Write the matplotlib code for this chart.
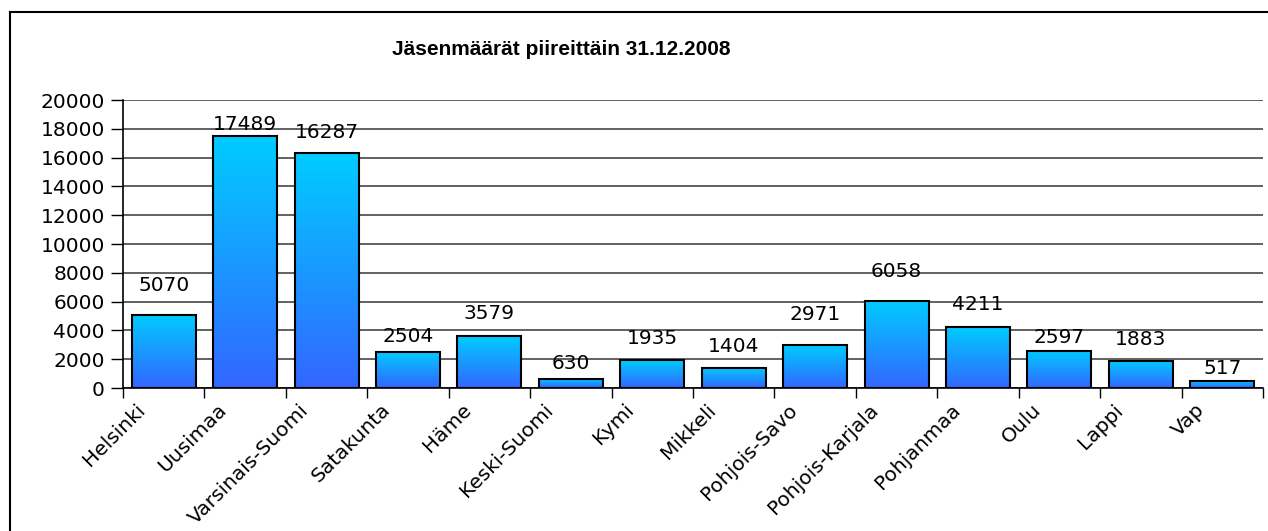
import matplotlib
matplotlib.use("Agg")
import matplotlib.pyplot as plt
import matplotlib.transforms as mtransforms
from matplotlib.lines import Line2D
from matplotlib.colors import LinearSegmentedColormap
import numpy as np

categories = ["Helsinki", "Uusimaa", "Varsinais-Suomi", "Satakunta", "Häme",
              "Keski-Suomi", "Kymi", "Mikkeli", "Pohjois-Savo", "Pohjois-Karjala",
              "Pohjanmaa", "Oulu", "Lappi", "Vap"]
values = [5070, 17489, 16287, 2504, 3579, 630, 1935, 1404, 2971, 6058,
          4211, 2597, 1883, 517]
yticks = [0, 2000, 4000, 6000, 8000, 10000, 12000, 14000, 16000, 18000, 20000]
title = "Jäsenmäärät piireittäin 31.12.2008"

# style: gap (pixels) between bar top and value label, as placed in the original
label_gap_px = [20, 2, 11, 6, 13, 6, 12, 12, 21, 20, 13, 4, 12, 3]

W, H, DPI = 1268, 531, 100
fig = plt.figure(figsize=(W / DPI, H / DPI), dpi=DPI)
ax = fig.add_axes([123 / W, 1 - 388 / H, (1263 - 123) / W, (388 - 100) / H])

num_font = "DejaVu Sans"
fs = 14.5

cmap = LinearSegmentedColormap.from_list("grad", ["#3366FF", "#00CCFF"])
grad = np.linspace(0, 1, 256).reshape(-1, 1)

x = np.arange(len(categories))
bw = 0.786
bars = ax.bar(x, values, width=bw, color="none", edgecolor="black",
              linewidth=1.5, zorder=3)
for b in bars:
    x0, y0 = b.get_x(), b.get_y()
    w, h = b.get_width(), b.get_height()
    im = ax.imshow(grad, cmap=cmap, aspect="auto", origin="lower",
                   extent=[x0, x0 + w, y0, y0 + h], zorder=2)
    im.set_clip_path(b)

for xi, v, g in zip(x, values, label_gap_px):
    ax.annotate(f"{v}", xy=(xi, v), xytext=(0, g * 72 / DPI),
                textcoords="offset points", ha="center", va="bottom",
                fontsize=fs, family=num_font, color="black", zorder=4)

ax.set_xlim(-0.5, len(categories) - 0.5)
ax.set_ylim(0, 20000)
ax.set_yticks(yticks)
ax.set_yticklabels([str(t) for t in yticks], family=num_font, fontsize=fs)
ax.yaxis.grid(True, color="#555555", linewidth=1.3, zorder=0)
ax.set_axisbelow(True)

ax.set_xticks(x)
ax.set_xticks(np.arange(-0.5, len(categories), 1), minor=True)
ax.tick_params(axis="x", which="major", length=0, pad=0)
ax.tick_params(axis="x", which="minor", length=7, width=1, direction="out")
ax.tick_params(axis="y", length=9, width=1, pad=4)
ax.set_xticklabels(categories, rotation=45, rotation_mode="anchor",
                   ha="right", va="center", family=num_font, fontsize=fs)
offset = mtransforms.ScaledTranslation(-21 / DPI, -19 / DPI, fig.dpi_scale_trans)
for lbl in ax.get_xticklabels():
    lbl.set_transform(lbl.get_transform() + offset)

for s in ["top", "right"]:
    ax.spines[s].set_visible(False)
ax.spines["left"].set_linewidth(1.2)
ax.spines["bottom"].set_linewidth(1.2)

fig.text(561 / W, 1 - 55 / H, title, ha="center", va="baseline",
         fontsize=15, fontweight="bold", family="Liberation Sans")

# outer chart frame
fig.add_artist(Line2D([10 / W, 10 / W], [0, 1 - 12 / H], color="black",
                      linewidth=1.5, transform=fig.transFigure))
fig.add_artist(Line2D([10 / W, 1], [1 - 12 / H, 1 - 12 / H], color="black",
                      linewidth=1.5, transform=fig.transFigure))

fig.savefig("out.png", dpi=DPI)
